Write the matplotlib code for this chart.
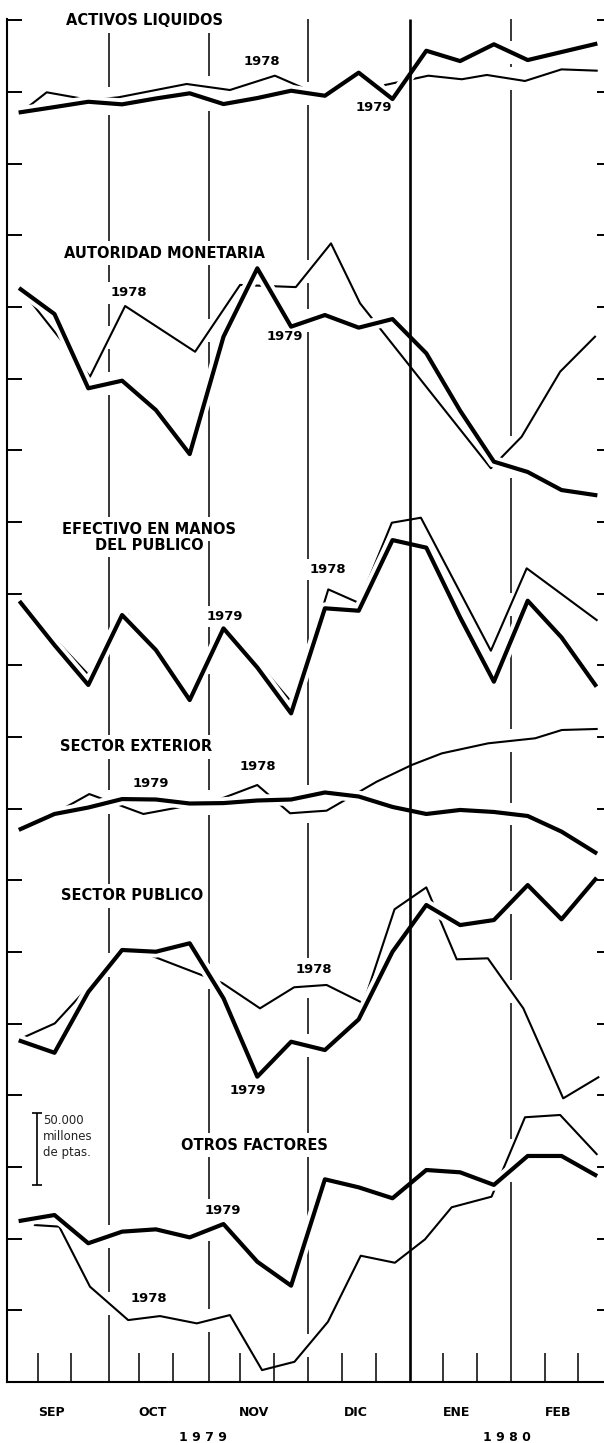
import numpy as np
import matplotlib
matplotlib.use("Agg")
import matplotlib.pyplot as plt
import matplotlib.patheffects as pe

nan = np.nan

# ---------------- data ----------------
# time axis: ten-day periods ("decenas"), Sep 1979 .. Feb 1980 (index 0..17)
DECADES = np.arange(18)
MONTHS = ["SEP", "OCT", "NOV", "DIC", "ENE", "FEB"]
YEARS = ["1 9 7 9", "1 9 8 0"]
YEAR_MONTHS = [4, 2]
MONTH_EDGES = [2.62, 5.58, 8.5, 11.52, 14.51]
YEAR_EDGE = 11.52

# values in thousand million pesetas, relative to each panel's base line
activos_1979 = [35.9, 39.5, 43.2, 41.4, 45.5, 49.1, 41.6, 45.8, 50.9, 47.4,
                63.5, 45.1, 78.8, 71.6, 83.3, 72.3, 77.9, 83.5]
activos_1978_x = [0.2, 0.77, 2.05, 2.89, 4.91, 6.19, 7.52, 8.31, 9.5, 10.78,
                  12.06, 13.05, 13.79, 14.92, 16.0, 17.04]
activos_1978 = [39.3, 49.8, 44.4, 46.3, 55.6, 51.4, 61.4, 53.3, nan, 54.9,
                61.4, 58.9, 61.9, 57.7, 65.8, 64.9]

autoridad_1979 = [162.4, 145.1, 93.3, 98.6, 78.1, 47.4, 129.3, 177.0, 136.3,
                  144.4, 135.6, 141.6, 117.7, 77.7, 42.1, 34.9, 22.3, 18.8]
autoridad_1978_x = [0.18, 2.05, 3.09, 5.16, 6.49, 8.14, 9.18, 10.04, 13.91,
                    14.82, 15.96, 16.99]
autoridad_1978 = [157.2, 101.4, 150.7, 118.8, 165.4, 163.9, 194.4, 152.6,
                  37.5, 59.5, 104.9, 129.3]

efectivo_1979 = [93.7, 64.1, 36.3, 85.1, 60.7, 25.8, 75.8, 48.5, 16.5, 89.8,
                 88.1, 137.4, 132.1, 83.5, 38.6, 95.1, 69.5, 36.3]
efectivo_1978_x = [0.0, 1.99, 3.17, 5.01, 6.14, 8.06, 9.1, 10.01, 10.98,
                   11.84, 13.91, 14.97, 17.04]
efectivo_1978 = [93.5, 43.9, 85.8, 27.2, 76.0, 23.0, 103.0, 93.5, 149.5,
                 153.0, 60.2, 117.7, 81.6]

exterior_1979 = [35.8, 46.3, 50.8, 56.7, 56.4, 53.6, 53.9, 55.7, 56.4, 61.3,
                 58.5, 51.2, 46.3, 49.1, 47.7, 44.9, 34.0, 19.4]
exterior_1978_x = [0.92, 2.03, 3.63, 4.79, 5.78, 7.0, 7.97, 8.61, 9.05,
                   10.53, 11.57, 12.46, 13.83, 15.22, 16.01, 17.04]
exterior_1978 = [45.6, 60.2, 46.3, 51.4, 55.6, 66.5, 46.8, 47.9, 48.6, 68.8,
                 80.5, 88.6, 95.6, 99.1, 104.9, 105.6]

publico_1979 = [37.9, 29.7, 72.1, 101.4, 100.2, 106.1, 67.7, 13.0, 37.4, 31.6,
                53.0, 100.2, 132.8, 118.8, 122.3, 146.7, 122.8, 150.7]
publico_1978_x = [0.13, 1.01, 3.12, 5.96, 7.08, 8.09, 9.05, 10.14, 11.06,
                  12.0, 12.9, 13.82, 14.87, 16.05, 17.09]
publico_1978 = [40.9, 50.2, 104.2, 78.4, 60.7, 75.4, 77.0, 64.2, 129.8, 145.1,
                94.9, 95.6, 60.7, -2.1, 12.6]

otros_1979 = [112.5, 116.5, 96.8, 104.9, 106.5, 100.9, 110.2, 83.9, 67.2,
              141.4, 135.8, 128.2, 147.9, 146.3, 137.5, 157.7, 157.7, 144.4]
otros_1978_x = [0.42, 1.14, 2.05, 3.18, 4.12, 5.21, 6.19, 7.14, 8.1, 9.09,
                10.06, 11.07, 11.96, 12.75, 13.93, 14.92, 15.96, 17.04]
otros_1978 = [109.5, 108.4, 66.5, 43.2, 46.0, 40.9, 46.7, 8.3, 14.1, 42.0,
              88.1, 83.2, 99.5, 121.9, 129.3, 184.7, 186.3, 159.0]

PANEL_TITLES = [["ACTIVOS LIQUIDOS"], ["AUTORIDAD MONETARIA"],
                ["EFECTIVO EN MANOS", "DEL PUBLICO"], ["SECTOR EXTERIOR"],
                ["SECTOR PUBLICO"], ["OTROS FACTORES"]]
SCALE_VALUE = 50          # 50.000 millones de ptas.
SCALE_TEXT = "50.000\nmillones\nde ptas."
TICK_STEP = 50

# ---------------- layout ----------------
PANEL_BASE = [850, 600, 450, 350, 200, 0]
TITLE_POS = [[(1.33, 949.6, "left")], [(1.27, 787.5, "left")],
             [(3.8, 595.1, "center"), (3.8, 583.9, "center")],
             [(1.16, 443.2, "left")], [(1.19, 339.1, "left")],
             [(4.74, 165.3, "left")]]
YEAR_LABELS = [[("1978", 7.15, 921.0), ("1979", 10.45, 889.5)],
               [("1978", 3.2, 759.8), ("1979", 7.82, 729.1)],
               [("1979", 6.04, 534.0), ("1978", 9.08, 567.0)],
               [("1979", 3.85, 417.9), ("1978", 7.02, 429.3)],
               [("1978", 8.68, 288.1), ("1979", 6.72, 203.7)],
               [("1979", 5.99, 120.0), ("1978", 3.8, 58.4)]]

series = [(activos_1979, activos_1978_x, activos_1978),
          (autoridad_1979, autoridad_1978_x, autoridad_1978),
          (efectivo_1979, efectivo_1978_x, efectivo_1978),
          (exterior_1979, exterior_1978_x, exterior_1978),
          (publico_1979, publico_1978_x, publico_1978),
          (otros_1979, otros_1978_x, otros_1978)]

plt.rcParams["font.family"] = ["DejaVu Sans"]

fig = plt.figure(figsize=(6.04, 14.43), dpi=100)
ax = fig.add_axes([7 / 604, 61 / 1443, 597 / 604, 1382 / 1443])
ax.set_xlim(-0.405, 17.257)
ax.set_ylim(0, 964.2)
TOP = 951

for s in ["top", "right"]:
    ax.spines[s].set_visible(False)
ax.spines["left"].set_bounds(0, TOP)
ax.spines["left"].set_linewidth(1.5)
ax.spines["bottom"].set_linewidth(1.5)
yt = np.arange(TICK_STEP, TOP, TICK_STEP)
ax.set_yticks(yt)
# decade boundaries inside each month (month boundaries carry the full lines)
ax.set_xticks([d + 0.5 for d in DECADES[:-1] if (d + 1) % 3 != 0])
ax.tick_params(axis="y", direction="in", length=11, width=1.4, labelleft=False)
ax.tick_params(axis="x", direction="in", length=21, width=1.1, labelbottom=False)

ax2 = ax.twinx()
ax2.set_ylim(ax.get_ylim())
ax2.set_yticks(yt)
ax2.tick_params(axis="y", direction="in", length=5, width=1.4, labelright=False)
for s in ax2.spines.values():
    s.set_visible(False)

halo = [pe.Stroke(linewidth=8.5, foreground="white"), pe.Normal()]
curves = []
for base, (y79, x78, y78) in zip(PANEL_BASE, series):
    y78a = np.asarray(y78, float) + base
    y79a = np.asarray(y79, float) + base
    ax.plot(x78, y78a, color="black", lw=1.5, zorder=2)
    ax.plot(DECADES, y79a, color="black", lw=3.0, zorder=3, path_effects=halo)
    curves.append((np.asarray(x78, float), y78a))
    curves.append((DECADES.astype(float), y79a))

# texts
for lines, poss in zip(PANEL_TITLES, TITLE_POS):
    for t, (x, y, ha) in zip(lines, poss):
        ax.text(x, y, t, ha=ha, va="center", fontsize=10.5, fontweight="bold", zorder=6)
for labs in YEAR_LABELS:
    for t, x, y in labs:
        ax.text(x, y, t, ha="center", va="center", fontsize=9.5, fontweight="bold", zorder=6)

# scale bar
sb_x, sb_y0 = 0.47, 137.4
ax.errorbar([sb_x], [sb_y0 + SCALE_VALUE / 2], yerr=[SCALE_VALUE / 2], color="black",
            lw=1.2, capsize=3.5, capthick=1.2, zorder=5)
ax.text(sb_x + 0.2, sb_y0 + SCALE_VALUE - 0.5, SCALE_TEXT, ha="left", va="top",
        fontsize=8.5, color="#222222", linespacing=1.3, zorder=6)

# month and year labels
for k, m in enumerate(MONTHS):
    ax.text(3 * k + 0.9, -21.6, m, ha="center", va="center", fontsize=9,
            fontweight="bold", clip_on=False)
start = 0
for yl, nm in zip(YEARS, YEAR_MONTHS):
    c = (3 * start - 0.5 + 3 * (start + nm) - 0.5) / 2 - 0.1
    ax.text(c, -38.4, yl, ha="center", va="center", fontsize=9,
            fontweight="bold", clip_on=False)
    start += nm

# vertical month lines, interrupted around curves and text
fig.canvas.draw()
renderer = fig.canvas.get_renderer()
inv = ax.transData.inverted()
text_boxes = []
for t in ax.texts:
    bb = t.get_window_extent(renderer)
    (x0b, y0b), (x1b, y1b) = inv.transform([[bb.x0, bb.y0], [bb.x1, bb.y1]])
    if y1b > 0:
        text_boxes.append((x0b, x1b, y0b, y1b))

PAD_CURVE, PAD_TEXT = 8.0, 3.0


def gaps_at(x0):
    g = []
    for xs, ys in curves:
        for k in range(len(xs) - 1):
            if np.isnan(ys[k]) or np.isnan(ys[k + 1]):
                continue
            if xs[k] <= x0 <= xs[k + 1]:
                y = ys[k] + (ys[k + 1] - ys[k]) * (x0 - xs[k]) / (xs[k + 1] - xs[k])
                g.append((y - PAD_CURVE, y + PAD_CURVE))
    for a, b, c, d in text_boxes:
        if a - 0.05 <= x0 <= b + 0.05:
            g.append((c - PAD_TEXT, d + PAD_TEXT))
    return sorted(g)


def segments(lo, hi, gaps):
    segs, cur = [], lo
    for a, b in gaps:
        if b <= cur:
            continue
        if a > cur:
            segs.append((cur, min(a, hi)))
        cur = max(cur, b)
        if cur >= hi:
            break
    if cur < hi:
        segs.append((cur, hi))
    return [(a, b) for a, b in segs if b - a > 1]


for x0 in MONTH_EDGES:
    if x0 == YEAR_EDGE:
        ax.vlines(x0, 0, TOP, color="black", lw=1.9, zorder=4)
    else:
        for a, b in segments(0, TOP, gaps_at(x0)):
            ax.vlines(x0, a, b, color="black", lw=1.1, zorder=1)

fig.savefig("out.png", dpi=100, facecolor="white")
